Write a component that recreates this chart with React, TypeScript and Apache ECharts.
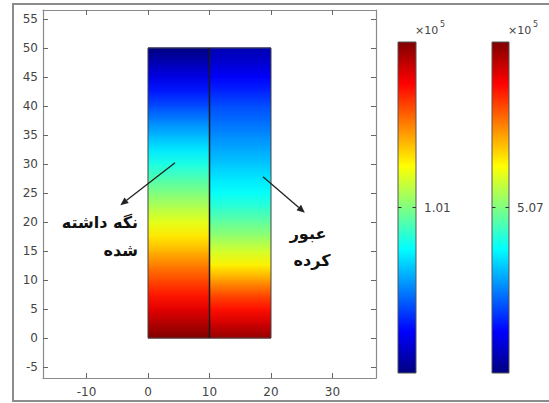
import React, { useEffect, useRef } from "react";
import * as echarts from "echarts";

// Axis tick values
const xTicks = [-10, 0, 10, 20, 30];
const yTicks = [-5, 0, 5, 10, 15, 20, 25, 30, 35, 40, 45, 50, 55];
const xRange = [-17.07, 37.07];
const yRange = [-6.9, 56.55];

// Domain: two halves of the column
const rectX = [0, 10, 20];
const rectY = [0, 50];

// Field sampled along the height (y), in units of 1e5
const yEdges = [0, 2.5, 5, 7.5, 10, 12.5, 15, 17.5, 20, 22.5, 25, 27.5, 30, 32.5, 35, 37.5, 40, 42.5, 45, 47.5, 50];
const heldValues = [2.02, 1.92, 1.82, 1.72, 1.62, 1.52, 1.41, 1.31, 1.21, 1.11, 1.01, 0.91, 0.81, 0.71, 0.61, 0.51, 0.4, 0.3, 0.2, 0.1, 0.0];
const passedValues = [9.94, 9.33, 8.72, 8.11, 7.3, 6.49, 5.88, 5.27, 4.77, 4.26, 3.85, 3.55, 3.24, 2.94, 2.64, 2.33, 2.03, 1.62, 1.22, 0.81, 0.51];
const heldRange = [0, 2.02];
const passedRange = [0, 10.14];

// Colorbar tick labels
const colorbarLabels = ["1.01", "5.07"];
const colorbarExp = "5";

// Annotation arrows [x0, y0, x1, y1] in data units
const arrows = [
  [4.4, 30.2, -4.5, 22.9],
  [18.7, 27.8, 25.5, 21.6],
];
const heldLabel = ["نگه داشته", "شده"];
const passedLabel = ["عبور", "کرده"];

function jet(v: number): string {
  const c = (x: number) => Math.max(0, Math.min(1, x));
  const r = c(1.5 - Math.abs(4 * v - 3));
  const g = c(1.5 - Math.abs(4 * v - 2));
  const b = c(1.5 - Math.abs(4 * v - 1));
  return `rgb(${Math.round(r * 255)},${Math.round(g * 255)},${Math.round(b * 255)})`;
}

function jetGradient() {
  const stops = [];
  for (let i = 0; i <= 16; i++) {
    const t = i / 16;
    stops.push({ offset: t, color: jet(1 - t) });
  }
  return new echarts.graphic.LinearGradient(0, 0, 0, 1, stops);
}

export default function App() {
  const ref = useRef<HTMLDivElement>(null);
  useEffect(() => {
    if (!ref.current) return;
    const chart = echarts.init(ref.current, undefined, { renderer: "svg" });

    const cells: number[][] = [];
    for (let i = 0; i < yEdges.length - 1; i++) {
      cells.push([rectX[0], rectX[1], yEdges[i], yEdges[i + 1],
        (heldValues[i] - heldRange[0]) / (heldRange[1] - heldRange[0]),
        (heldValues[i + 1] - heldRange[0]) / (heldRange[1] - heldRange[0])]);
      cells.push([rectX[1], rectX[2], yEdges[i], yEdges[i + 1],
        (passedValues[i] - passedRange[0]) / (passedRange[1] - passedRange[0]),
        (passedValues[i + 1] - passedRange[0]) / (passedRange[1] - passedRange[0])]);
    }

    const labelFont = { fontFamily: "DejaVu Sans", fontSize: 12, color: "#444" };
    const axisLineStyle = { color: "#8a8a8a", width: 1.2 };
    const tickStyle = { color: "#666", width: 1 };

    const bars = [
      { x: 398, w: 18, label: colorbarLabels[0] },
      { x: 492, w: 17, label: colorbarLabels[1] },
    ];
    const barTop = 42, barH = 331;
    const graphics: any[] = [
      {
        type: "rect",
        shape: { x: 13, y: 4, width: 560, height: 397 },
        style: { fill: "none", stroke: "#8c8c8c", lineWidth: 2 },
        silent: true,
      },
    ];
    bars.forEach((b) => {
      const mid = barTop + barH / 2;
      graphics.push({
        type: "rect",
        shape: { x: b.x, y: barTop, width: b.w, height: barH },
        style: { fill: jetGradient(), stroke: "#555", lineWidth: 1 },
      });
      graphics.push({ type: "line", shape: { x1: b.x, y1: mid, x2: b.x + 3.5, y2: mid }, style: { stroke: "#333", lineWidth: 1 } });
      graphics.push({ type: "line", shape: { x1: b.x + b.w - 3.5, y1: mid, x2: b.x + b.w, y2: mid }, style: { stroke: "#333", lineWidth: 1 } });
      graphics.push({
        type: "text", x: b.x + b.w + 8, y: mid,
        style: { text: b.label, fontFamily: "DejaVu Sans", fontSize: 12, fill: "#444", align: "left", verticalAlign: "middle" },
      });
      graphics.push({
        type: "text", x: b.x + b.w - 1, y: 30,
        style: { text: "×10", fontFamily: "DejaVu Sans", fontSize: 11, fill: "#444", align: "left", verticalAlign: "middle" },
      });
      graphics.push({
        type: "text", x: b.x + b.w + 24, y: 24,
        style: { text: colorbarExp, fontFamily: "DejaVu Sans", fontSize: 8, fill: "#444", align: "left", verticalAlign: "middle" },
      });
    });
    const arabicStyle = { fontFamily: "DejaVu Sans", fontSize: 16, fontWeight: "bold", fill: "#111" };
    graphics.push({ type: "text", x: 138, y: 222, style: { ...arabicStyle, text: heldLabel[0], align: "right", verticalAlign: "middle" } });
    graphics.push({ type: "text", x: 138, y: 250, style: { ...arabicStyle, text: heldLabel[1], align: "right", verticalAlign: "middle" } });
    graphics.push({ type: "text", x: 308, y: 233, style: { ...arabicStyle, text: passedLabel[0], align: "center", verticalAlign: "middle" } });
    graphics.push({ type: "text", x: 312, y: 260, style: { ...arabicStyle, text: passedLabel[1], align: "center", verticalAlign: "middle" } });

    const option: any = {
      animation: false,
      backgroundColor: "#fff",
      grid: { left: 43, top: 10, right: 173, bottom: 25, containLabel: false },
      xAxis: [
        {
          type: "value", min: xRange[0], max: xRange[1], position: "bottom",
          axisLine: { show: true, onZero: false, lineStyle: axisLineStyle },
          axisTick: { show: true, inside: true, length: 5, customValues: xTicks, lineStyle: tickStyle },
          axisLabel: { show: true, customValues: xTicks, margin: 8, ...labelFont },
          splitLine: { show: false },
        },
        {
          type: "value", min: xRange[0], max: xRange[1], position: "top",
          axisLine: { show: true, onZero: false, lineStyle: axisLineStyle },
          axisTick: { show: true, inside: true, length: 5, customValues: xTicks, lineStyle: tickStyle },
          axisLabel: { show: false },
          splitLine: { show: false },
        },
      ],
      yAxis: [
        {
          type: "value", min: yRange[0], max: yRange[1], position: "left",
          axisLine: { show: true, onZero: false, lineStyle: axisLineStyle },
          axisTick: { show: true, inside: true, length: 5, customValues: yTicks, lineStyle: tickStyle },
          axisLabel: { show: true, customValues: yTicks, margin: 5, ...labelFont },
          splitLine: { show: false },
        },
        {
          type: "value", min: yRange[0], max: yRange[1], position: "right",
          axisLine: { show: true, onZero: false, lineStyle: axisLineStyle },
          axisTick: { show: true, inside: true, length: 5, customValues: yTicks, lineStyle: tickStyle },
          axisLabel: { show: false },
          splitLine: { show: false },
        },
      ],
      series: [
        {
          type: "custom",
          name: "field",
          xAxisIndex: 0, yAxisIndex: 0,
          data: cells,
          renderItem: (params: any, api: any) => {
            const p0 = api.coord([api.value(0), api.value(2)]);
            const p1 = api.coord([api.value(1), api.value(3)]);
            const vb = api.value(4), vt = api.value(5);
            return {
              type: "rect",
              shape: { x: p0[0], y: p1[1] - 0.5, width: p1[0] - p0[0], height: p0[1] - p1[1] + 1 },
              style: {
                fill: new echarts.graphic.LinearGradient(0, 0, 0, 1, [
                  { offset: 0, color: jet(vt) },
                  { offset: 1, color: jet(vb) },
                ]),
              },
            };
          },
        },
        {
          type: "custom",
          name: "outline",
          xAxisIndex: 0, yAxisIndex: 0,
          data: [[rectX[0], rectX[1], rectX[2], rectY[0], rectY[1]]],
          renderItem: (params: any, api: any) => {
            const a = api.coord([api.value(0), api.value(3)]);
            const m = api.coord([api.value(1), api.value(4)]);
            const b = api.coord([api.value(2), api.value(4)]);
            return {
              type: "group",
              children: [
                { type: "rect", shape: { x: a[0], y: b[1], width: b[0] - a[0], height: a[1] - b[1] }, style: { fill: "none", stroke: "#444", lineWidth: 1 } },
                { type: "line", shape: { x1: m[0], y1: m[1], x2: m[0], y2: a[1] }, style: { stroke: "#1a1a1a", lineWidth: 1.5 } },
              ],
            };
          },
        },
        {
          type: "custom",
          name: "arrows",
          xAxisIndex: 0, yAxisIndex: 0,
          data: arrows,
          renderItem: (params: any, api: any) => {
            const s = api.coord([api.value(0), api.value(1)]);
            const e = api.coord([api.value(2), api.value(3)]);
            const dx = e[0] - s[0], dy = e[1] - s[1];
            const len = Math.sqrt(dx * dx + dy * dy);
            const ux = dx / len, uy = dy / len;
            const hl = 8, hw = 3.5;
            const bx = e[0] - ux * hl, by = e[1] - uy * hl;
            return {
              type: "group",
              children: [
                { type: "line", shape: { x1: s[0], y1: s[1], x2: bx, y2: by }, style: { stroke: "#222", lineWidth: 1.3 } },
                {
                  type: "polygon",
                  shape: { points: [[e[0], e[1]], [bx - uy * hw, by + ux * hw], [bx + uy * hw, by - ux * hw]] },
                  style: { fill: "#222" },
                },
              ],
            };
          },
        },
      ],
      graphic: graphics,
    };
    chart.setOption(option);
    return () => chart.dispose();
  }, []);
  return <div ref={ref} style={{ position: "fixed", left: 0, top: 0, width: 549, height: 403 }} />;
}
